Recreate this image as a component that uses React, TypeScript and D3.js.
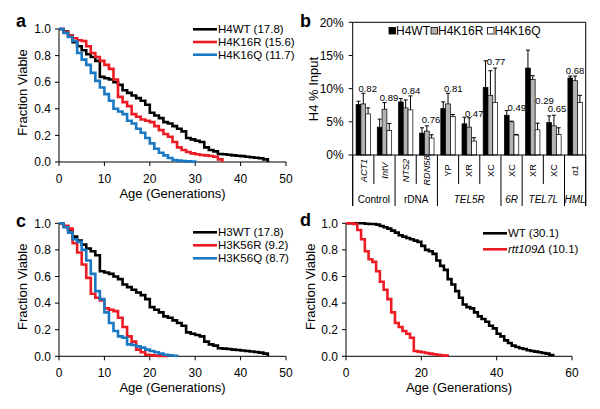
import React from 'react';
import * as d3 from 'd3';

const FONT = "'Liberation Sans', Arial, Helvetica, sans-serif";
const RED = '#ed1c24';
const BLUE = '#1b78c2';

// ---------- Panel a : fraction viable, index = age in generations ----------
const h4wtViable = [1.0, 0.98, 0.95, 0.9, 0.87, 0.84, 0.81, 0.79, 0.76, 0.64, 0.63, 0.62, 0.6, 0.58, 0.54, 0.52, 0.5, 0.48, 0.46, 0.43, 0.37, 0.35, 0.33, 0.3, 0.29, 0.27, 0.25, 0.23, 0.18, 0.17, 0.16, 0.15, 0.11, 0.09, 0.08, 0.06, 0.058, 0.055, 0.05, 0.047, 0.044, 0.04, 0.036, 0.032, 0.028, 0.02, 0];
const h4k16rViable = [1.0, 0.975, 0.95, 0.93, 0.915, 0.91, 0.87, 0.82, 0.79, 0.76, 0.73, 0.7, 0.62, 0.49, 0.45, 0.42, 0.36, 0.34, 0.32, 0.31, 0.3, 0.27, 0.24, 0.21, 0.19, 0.15, 0.11, 0.09, 0.075, 0.065, 0.058, 0.053, 0.05, 0.045, 0.04, 0.02, 0];
const h4k16qViable = [1.0, 0.97, 0.94, 0.91, 0.82, 0.77, 0.73, 0.67, 0.61, 0.56, 0.51, 0.46, 0.4, 0.38, 0.36, 0.31, 0.29, 0.25, 0.22, 0.18, 0.14, 0.1, 0.07, 0.05, 0.03, 0.015, 0.01, 0.008, 0.005, 0.003, 0];
const panelALegend = ['H4WT (17.8)', 'H4K16R (15.6)', 'H4K16Q (11.7)'];

// ---------- Panel c ----------
const h3wtViable = [1.0, 0.98, 0.95, 0.9, 0.87, 0.84, 0.81, 0.79, 0.76, 0.64, 0.63, 0.62, 0.6, 0.58, 0.54, 0.52, 0.5, 0.48, 0.46, 0.43, 0.37, 0.35, 0.33, 0.3, 0.29, 0.27, 0.25, 0.23, 0.18, 0.17, 0.16, 0.15, 0.11, 0.09, 0.08, 0.06, 0.058, 0.055, 0.05, 0.047, 0.044, 0.04, 0.036, 0.032, 0.028, 0.02, 0];
const h3k56rViable = [1.0, 0.98, 0.96, 0.85, 0.78, 0.69, 0.59, 0.47, 0.44, 0.42, 0.36, 0.35, 0.34, 0.29, 0.22, 0.15, 0.11, 0.05, 0.03, 0.012, 0.008, 0.005, 0.003, 0.002, 0];
const h3k56qViable = [1.0, 0.97, 0.93, 0.88, 0.86, 0.8, 0.72, 0.62, 0.49, 0.43, 0.33, 0.25, 0.19, 0.15, 0.14, 0.09, 0.085, 0.075, 0.065, 0.05, 0.04, 0.03, 0.02, 0.012, 0.008, 0.004, 0];
const panelCLegend = ['H3WT (17.8)', 'H3K56R (9.2)', 'H3K56Q (8.7)'];

// ---------- Panel d ----------
const wtViable = [1.0, 1.0, 1.0, 1.0, 1.0, 0.997, 0.995, 0.995, 0.99, 0.98, 0.97, 0.96, 0.945, 0.93, 0.91, 0.9, 0.89, 0.88, 0.87, 0.86, 0.83, 0.8, 0.79, 0.77, 0.72, 0.68, 0.65, 0.58, 0.54, 0.49, 0.44, 0.39, 0.37, 0.36, 0.33, 0.3, 0.28, 0.26, 0.23, 0.21, 0.17, 0.15, 0.12, 0.1, 0.08, 0.07, 0.06, 0.055, 0.045, 0.04, 0.035, 0.03, 0.025, 0.02, 0.01, 0];
const rtt109Viable = [1.0, 1.0, 0.995, 0.95, 0.88, 0.79, 0.73, 0.71, 0.64, 0.56, 0.5, 0.43, 0.33, 0.25, 0.22, 0.19, 0.17, 0.14, 0.04, 0.035, 0.03, 0.025, 0.02, 0.015, 0.012, 0.008, 0.005, 0];
const panelDLegend = ['WT', ' (30.1)', 'rtt109Δ', ' (10.1)'];

const viableTicks = [0, 0.2, 0.4, 0.6, 0.8, 1.0];
const ageTicksAC = [0, 10, 20, 30, 40, 50];
const ageTicksD = [0, 20, 40, 60];

// ---------- Panel b : H4 % input ----------
const loci = ['ACT1', 'IntV', 'NTS2', 'RDN58', 'YP', 'XR', 'XC', 'XC', 'XR', 'XC', 'α1'];
const locusGroups = ['Control', 'rDNA', 'TEL5R', '6R', 'TEL7L', 'HML'];
const locusGroupSizes = [2, 2, 3, 1, 2, 1];
const seriesB = ['H4WT', 'H4K16R', 'H4K16Q'];
const h4wtInput = [7.6, 4.2, 8.0, 3.3, 7.0, 4.7, 10.2, 6.0, 13.1, 4.9, 11.6];
const h4wtErr = [0.5, 1.2, 0.5, 0.8, 1.0, 1.0, 4.0, 0.7, 2.7, 1.0, 0.3];
const h4k16rInput = [7.7, 6.9, 7.1, 3.6, 7.7, 4.2, 9.0, 5.0, 11.4, 4.4, 11.2];
const h4k16rErr = [1.6, 1.0, 1.2, 0.8, 1.6, 1.4, 3.7, 0.1, 0.55, 1.6, 0.7];
const h4k16qInput = [6.2, 3.7, 6.8, 2.55, 5.8, 2.1, 7.9, 3.0, 3.8, 3.1, 7.9];
const h4k16qErr = [0.9, 1.05, 2.1, 0.5, 0.3, 0.5, 5.2, 0.1, 1.0, 1.0, 1.1];
const pValues = ['0.82', '0.89', '0.84', '0.76', '0.81', '0.47', '0.77', '0.49', '0.29', '0.65', '0.68'];
const pValueAt = [10.0, 8.7, 9.75, 5.3, 10.05, 6.3, 14.0, 7.2, 8.25, 6.95, 12.7];
const inputTicks = [0, 5, 10, 15, 20];

// layout-only (annotation horizontal nudges, px)
const pValueDx = [4.4, 4.5, 5.3, 4.2, 5.3, 5, 5.6, 5.2, 11.8, 3.1, 0];
const locusItalic = [true, true, true, true, false, false, false, false, false, false, true];
const groupItalic = [false, false, true, true, true, true];

type Series = { values: number[]; color: string };

function SurvivalPanel(props: {
  letter: string; letterX: number; letterY: number;
  left: number; right: number; top: number; bottom: number;
  xMax: number; xTicks: number[]; series: Series[];
  legend: React.ReactNode[]; legendX: number; legendY: number; legendStep: number;
  yTitleX: number;
}) {
  const { left, right, top, bottom } = props;
  const x = d3.scaleLinear().domain([0, props.xMax]).range([left, right]);
  const y = d3.scaleLinear().domain([0, 1]).range([bottom, top]);
  const line = d3.line<number>().x((_, i) => x(i)).y((d) => y(d)).curve(d3.curveStepAfter);
  const fmt = d3.format('.1f');
  return (
    <g>
      <text x={props.letterX} y={props.letterY} fontSize={18} fontWeight="bold">{props.letter}</text>
      <line x1={left} x2={left} y1={top} y2={bottom} stroke="#000" strokeWidth={1} />
      <line x1={left} x2={right} y1={bottom} y2={bottom} stroke="#000" strokeWidth={1} />
      {viableTicks.map((t) => (
        <g key={'y' + t}>
          <line x1={left - 4} x2={left} y1={y(t)} y2={y(t)} stroke="#000" />
          <text x={left - 8} y={y(t)} dy="0.35em" textAnchor="end" fontSize={12}>{fmt(t)}</text>
        </g>
      ))}
      {props.xTicks.map((t) => (
        <g key={'x' + t}>
          <line x1={x(t)} x2={x(t)} y1={bottom} y2={bottom + 4} stroke="#000" />
          <text x={x(t)} y={bottom + 21} textAnchor="middle" fontSize={12}>{t}</text>
        </g>
      ))}
      <text transform={`translate(${props.yTitleX},${(top + bottom) / 2 - 3}) rotate(-90)`} dy="0.35em" textAnchor="middle" fontSize={13}>Fraction Viable</text>
      <text x={(left + right) / 2} y={bottom + 35.5} textAnchor="middle" fontSize={13}>Age (Generations)</text>
      {props.series.map((s, i) => (
        <path key={i} d={line(s.values) || ''} fill="none" stroke={s.color} strokeWidth={2.6} />
      ))}
      {props.series.map((s, i) => (
        <g key={'l' + i}>
          <line x1={props.legendX} x2={props.legendX + 24} y1={props.legendY + i * props.legendStep} y2={props.legendY + i * props.legendStep} stroke={s.color} strokeWidth={2.6} />
          <text x={props.legendX + 25} y={props.legendY + i * props.legendStep} dy="0.35em" fontSize={11.5}>{props.legend[i]}</text>
        </g>
      ))}
    </g>
  );
}

function BarPanel() {
  const left = 352.7, right = 585.7, top = 22.3, bottom = 155;
  const x = d3.scaleBand<number>().domain(d3.range(loci.length)).range([left, right]).padding(0);
  const bw = x.bandwidth();
  const xs = d3.scaleBand<string>().domain(seriesB).range([bw * 0.16, bw * 0.84]).padding(0);
  const y = d3.scaleLinear().domain([0, 20]).range([bottom, top]);
  const means = [h4wtInput, h4k16rInput, h4k16qInput];
  const errs = [h4wtErr, h4k16rErr, h4k16qErr];
  const fills = ['#000', '#b3b3b3', '#fff'];
  const ends = d3.cumsum(locusGroupSizes);
  const starts = Array.from(ends).map((e, i) => e - locusGroupSizes[i]);
  const groupEdges = new Set<number>([0, ...Array.from(ends)]);
  const edgeX = (i: number) => (i < loci.length ? (x(i) as number) : right);
  const legendItems = [
    { sq: 389, tx: 396 },
    { sq: 431, tx: 438 },
    { sq: 487.5, tx: 494.5 },
  ];
  return (
    <g>
      <text x={300} y={26.5} fontSize={18} fontWeight="bold">b</text>
      <line x1={left} x2={right} y1={top} y2={top} stroke="#000" />
      <line x1={right} x2={right} y1={top} y2={206} stroke="#000" />
      <line x1={left} x2={left} y1={top} y2={206} stroke="#000" />
      {inputTicks.map((t) => (
        <g key={t}>
          <line x1={left - 4} x2={left} y1={y(t)} y2={y(t)} stroke="#000" />
          <text x={left - 9} y={y(t)} dy="0.35em" textAnchor="end" fontSize={12}>{t + '%'}</text>
        </g>
      ))}
      <text transform={`translate(313,89) rotate(-90)`} dy="0.35em" textAnchor="middle" fontSize={13}>H4 % Input</text>
      {loci.map((_, i) => (
        <g key={i} transform={`translate(${x(i)},0)`}>
          {seriesB.map((s, k) => {
            const bx = xs(s) as number;
            const w = xs.bandwidth();
            const v = means[k][i];
            const e = errs[k][i];
            return (
              <g key={s}>
                <rect x={bx} y={y(v)} width={w} height={bottom - y(v)} fill={fills[k]} stroke="#000" strokeWidth={0.7} />
                <line x1={bx + w / 2} x2={bx + w / 2} y1={y(v)} y2={y(v + e)} stroke="#000" strokeWidth={1} />
                <line x1={bx + w / 2 - 2} x2={bx + w / 2 + 2} y1={y(v + e)} y2={y(v + e)} stroke="#000" strokeWidth={1} />
              </g>
            );
          })}
        </g>
      ))}
      <line x1={left} x2={right} y1={bottom} y2={bottom} stroke="#000" />
      {pValues.map((p, i) => (
        <text key={'p' + i} x={(x(i) as number) + bw / 2 + pValueDx[i]} y={y(pValueAt[i])} dy="0.35em" textAnchor="middle" fontSize={9.5}>{p}</text>
      ))}
      {d3.range(loci.length + 1).map((i) => (
        <line key={'s' + i} x1={edgeX(i)} x2={edgeX(i)} y1={bottom} y2={groupEdges.has(i) ? 206 : 184} stroke="#000" />
      ))}
      {loci.map((l, i) => (
        <text key={'c' + i} transform={`translate(${(x(i) as number) + bw / 2},170.5) rotate(-90)`} dy="0.35em" textAnchor="middle" fontSize={9.2} fontStyle={locusItalic[i] ? 'italic' : 'normal'}>{l}</text>
      ))}
      {locusGroups.map((g, gi) => (
        <text key={'g' + gi} x={(edgeX(starts[gi]) + edgeX(ends[gi])) / 2} y={202.5} textAnchor="middle" fontSize={10} fontStyle={groupItalic[gi] ? 'italic' : 'normal'}>{g}</text>
      ))}
      {seriesB.map((s, k) => (
        <g key={'lg' + s}>
          <rect x={legendItems[k].sq} y={27.5} width={6.5} height={6.5} fill={fills[k]} stroke="#000" strokeWidth={0.8} />
          <text x={legendItems[k].tx} y={31} dy="0.35em" fontSize={12}>{s}</text>
        </g>
      ))}
    </g>
  );
}

export default function App() {
  return (
    <svg width={600} height={409} style={{ position: 'absolute', left: 0, top: 0 }} fontFamily={FONT}>
      <rect width={600} height={409} fill="#fff" />
      <SurvivalPanel
        letter="a" letterX={16} letterY={26.5}
        left={59} right={286} top={29} bottom={162}
        xMax={50} xTicks={ageTicksAC}
        series={[{ values: h4wtViable, color: '#000' }, { values: h4k16rViable, color: RED }, { values: h4k16qViable, color: BLUE }]}
        legend={panelALegend} legendX={193} legendY={29.3} legendStep={12.7}
        yTitleX={22.3}
      />
      <SurvivalPanel
        letter="c" letterX={16} letterY={226.5}
        left={59} right={286} top={223.3} bottom={356.3}
        xMax={50} xTicks={ageTicksAC}
        series={[{ values: h3wtViable, color: '#000' }, { values: h3k56rViable, color: RED }, { values: h3k56qViable, color: BLUE }]}
        legend={panelCLegend} legendX={193} legendY={232.3} legendStep={13}
        yTitleX={22.3}
      />
      <SurvivalPanel
        letter="d" letterX={300} letterY={226}
        left={346} right={572} top={223.3} bottom={356.3}
        xMax={60} xTicks={ageTicksD}
        series={[{ values: wtViable, color: '#000' }, { values: rtt109Viable, color: RED }]}
        legend={[
          <tspan key="a">{panelDLegend[0]}{panelDLegend[1]}</tspan>,
          <tspan key="b"><tspan fontStyle="italic">{panelDLegend[2]}</tspan>{panelDLegend[3]}</tspan>,
        ]}
        legendX={483} legendY={233.3} legendStep={16}
        yTitleX={310}
      />
      <BarPanel />
    </svg>
  );
}
